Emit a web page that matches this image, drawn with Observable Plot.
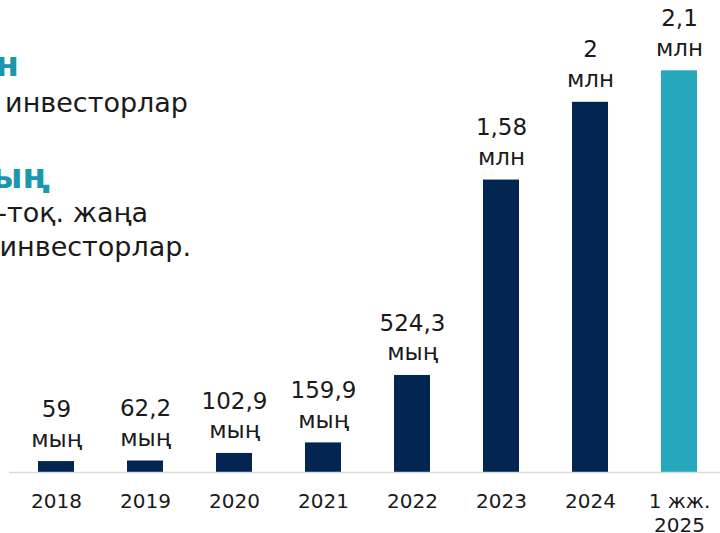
<!DOCTYPE html>
<html>
<head>
<meta charset="utf-8">
<script src="https://cdn.jsdelivr.net/npm/d3@7"></script>
<script src="https://cdn.jsdelivr.net/npm/@observablehq/plot@0.6"></script>
<style>
  html, body { margin: 0; padding: 0; background: #fff; overflow: hidden; width: 720px; height: 533px; }
  #wrap { position: relative; width: 720px; height: 533px; overflow: hidden; }
  #wrap svg { position: absolute; left: 0; top: 0; }
  .note { position: absolute; white-space: nowrap; line-height: 1; font-family: "DejaVu Sans", sans-serif; color: #1a1a1a; }
  .note.hl { font-weight: bold; color: #1a96ad; }
</style>
</head>
<body>
<div id="wrap"></div>
<script>
// ---- data ----
const categories = ["2018", "2019", "2020", "2021", "2022", "2023", "2024", "2025 H1"];
const tickLabels = ["2018", "2019", "2020", "2021", "2022", "2023", "2024", "1 жж.\n2025"];
const investorsThousands = [59, 62.2, 102.9, 159.9, 524.3, 1580, 2000, 2170];
const valueLabels = ["59\nмың", "62,2\nмың", "102,9\nмың", "159,9\nмың", "524,3\nмың", "1,58\nмлн", "2\nмлн", "2,1\nмлн"];
const periodType = ["year", "year", "year", "year", "year", "year", "year", "half-year"];

// clipped side text (visible fragments)
const noteTexts = ["млн", "инвесторлар", "мың", "а-тоқ. жаңа", "инвесторлар."];
const noteHighlight = [true, false, true, false, false];

// ---- layout for side text (right edge x, baseline y, font size) ----
const noteLayout = [
  {right: 19, baseline: 76, size: 34},
  {right: 188, baseline: 112, size: 27},
  {right: 50, baseline: 188, size: 34},
  {right: 148, baseline: 222, size: 27},
  {right: 191, baseline: 256, size: 27}
];

const data = categories.map((c, i) => ({
  cat: c, value: investorsThousands[i], label: valueLabels[i], tick: tickLabels[i], period: periodType[i]
}));

const chart = Plot.plot({
  width: 720,
  height: 533,
  marginTop: 0,
  marginBottom: 61,
  marginLeft: 9,
  marginRight: 0,
  style: {fontFamily: "DejaVu Sans", background: "transparent"},
  x: {type: "band", domain: categories, range: [18.1, 716.9], paddingInner: 0.6, paddingOuter: 0.2, align: 0.5, axis: null},
  y: {domain: [0, 2550], axis: null},
  color: {type: "ordinal", domain: ["year", "half-year"], range: ["#022552", "#27a7bd"]},
  marks: [
    Plot.barY(data, {x: "cat", y: "value", fill: "period"}),
    Plot.ruleY([0], {stroke: "#d9d9d9", strokeWidth: 1.5}),
    Plot.text(data, {x: "cat", y: "value", text: "label", lineAnchor: "bottom", lineHeight: 1.3, dy: -15, fontSize: 23, fill: "#1a1a1a"}),
    Plot.text(data, {x: "cat", y: () => 0, text: "tick", lineAnchor: "top", lineHeight: 1.2, dy: 18.5, fontSize: 20, fill: "#1a1a1a"})
  ]
});

const wrap = document.getElementById("wrap");
wrap.appendChild(chart);

noteTexts.forEach((t, i) => {
  const L = noteLayout[i];
  const d = document.createElement("div");
  d.className = "note" + (noteHighlight[i] ? " hl" : "");
  d.textContent = t;
  d.style.fontSize = L.size + "px";
  d.style.right = (720 - L.right) + "px";
  d.style.top = (L.baseline - 0.846 * L.size) + "px";
  wrap.appendChild(d);
});
</script>
</body>
</html>
